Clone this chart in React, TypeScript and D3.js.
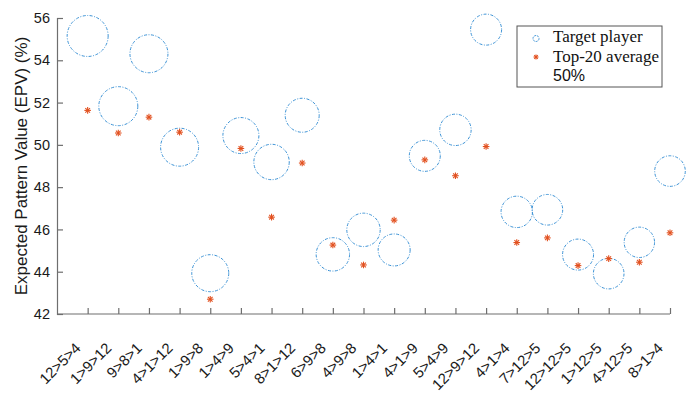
import { useEffect, useRef } from "react";
import * as d3 from "d3";

const PATTERNS = [
  "12>5>4", "1>9>12", "9>8>1", "4>1>12", "1>9>8", "1>4>9", "5>4>1", "8>1>12", "6>9>8", "4>9>8",
  "1>4>1", "4>1>9", "5>4>9", "12>9>12", "4>1>4", "7>12>5", "12>12>5", "1>12>5", "4>12>5", "8>1>4",
];
const TARGET = [
  55.15, 51.83, 54.31, 49.89, 43.93, 50.44, 49.19, 51.4, 44.82, 45.98,
  45.03, 49.48, 50.71, 55.45, 46.83, 46.93, 44.81, 43.91, 45.39, 48.76,
];
const TOP20 = [
  51.63, 50.56, 51.31, 50.6, 42.7, 49.83, 46.58, 49.14, 45.26, 44.32,
  46.44, 49.29, 48.54, 49.92, 45.38, 45.6, 44.29, 44.62, 44.45, 45.84,
];
// relative usage weight of each pattern (sets the circle size)
const USAGE = [
  20.5, 19.5, 19, 19, 18.5, 18, 17.7, 17, 16.7, 16.7,
  16, 15.5, 15.7, 15.5, 15.7, 15.3, 15.5, 15.3, 15.2, 15.3,
];
const Y_TICKS = [42, 44, 46, 48, 50, 52, 54, 56];
const LEGEND = ["Target player", "Top-20 average", "50%"];

const BLUE = "#3d93d6";
const RED = "#e2501f";
const AXIS = "#6e6e6e";
const SANS = "'Liberation Sans', Arial, sans-serif";
const SERIF = "'Liberation Serif', 'Times New Roman', serif";

function star(g: d3.Selection<SVGGElement, unknown, null, undefined>, x: number, y: number, s: number) {
  const angles = [0, 45, 90, 135];
  angles.forEach((a) => {
    const r = (a * Math.PI) / 180;
    g.append("line")
      .attr("x1", x - Math.cos(r) * s)
      .attr("y1", y - Math.sin(r) * s)
      .attr("x2", x + Math.cos(r) * s)
      .attr("y2", y + Math.sin(r) * s)
      .attr("stroke", RED)
      .attr("stroke-width", 1.1);
  });
}

export default function App() {
  const svgRef = useRef<SVGSVGElement>(null);

  useEffect(() => {
    document.body.style.margin = "0";
    const svg = svgRef.current;
    if (!svg) return;
    const W = 700;
    const H = 397;
    const m = { left: 57, right: 30, top: 18, bottom: 83 };

    const s = d3.select(svg);
    s.selectAll("*").remove();
    s.attr("width", W).attr("height", H);

    const x = d3.scaleLinear().domain([0, PATTERNS.length]).range([m.left, W - m.right]);
    const y = d3.scaleLinear().domain([42, 56]).range([H - m.bottom, m.top]);
    const rScale = d3.scaleLinear().domain([15, 20.5]).range([15, 20.5]);

    const g = s.append("g");

    // y label
    g.append("text")
      .attr("transform", `translate(27,${(y(42) + y(56)) / 2}) rotate(-90)`)
      .attr("text-anchor", "middle")
      .attr("font-family", SANS)
      .attr("font-size", 17)
      .attr("fill", "#1a1a1a")
      .text("Expected Pattern Value (EPV) (%)");

    // y axis
    const yAx = g.append("g")
      .attr("transform", `translate(${m.left},0)`)
      .call(d3.axisLeft(y).tickValues(Y_TICKS).tickSize(-6).tickPadding(7).tickFormat(d3.format("d")));
    yAx.select(".domain").attr("stroke", AXIS).attr("stroke-width", 1.2);
    yAx.selectAll(".tick line").attr("stroke", AXIS).attr("stroke-width", 1.2);
    yAx.selectAll("text").attr("font-family", SANS).attr("font-size", 14.5).attr("fill", "#1a1a1a");

    // x axis
    const xAx = g.append("g")
      .attr("transform", `translate(0,${y(42)})`)
      .call(
        d3.axisBottom(x)
          .tickValues(d3.range(1, PATTERNS.length + 1))
          .tickSize(-6)
          .tickFormat(() => ""),
      );
    xAx.select(".domain").attr("stroke", AXIS).attr("stroke-width", 1.2).attr("d", `M${m.left},0H${x(PATTERNS.length)}`);
    xAx.selectAll(".tick line").attr("stroke", AXIS).attr("stroke-width", 1.2);

    g.append("g")
      .selectAll("text")
      .data(PATTERNS)
      .join("text")
      .attr("transform", (_d, i) => `translate(${x(i + 1) - 6},${y(42) + 35}) rotate(-45)`)
      .attr("text-anchor", "end")
      .attr("font-family", SANS)
      .attr("font-size", 15)
      .attr("fill", "#1a1a1a")
      .text((d) => d);

    // circles
    g.append("g")
      .selectAll("circle")
      .data(TARGET)
      .join("circle")
      .attr("cx", (_d, i) => x(i + 1))
      .attr("cy", (d) => y(d))
      .attr("r", (_d, i) => rScale(USAGE[i]))
      .attr("fill", "none")
      .attr("stroke", BLUE)
      .attr("stroke-width", 1)
      .attr("stroke-dasharray", "3 1.5 1 1.5");

    // stars
    const sg = g.append("g");
    TOP20.forEach((v, i) => star(sg, x(i + 1), y(v), 3.3));

    // legend
    const lg = g.append("g").attr("transform", "translate(517,26)");
    lg.append("rect")
      .attr("width", 145)
      .attr("height", 61)
      .attr("fill", "white")
      .attr("stroke", "#555")
      .attr("stroke-width", 1);
    lg.append("circle")
      .attr("cx", 19)
      .attr("cy", 12.5)
      .attr("r", 3)
      .attr("fill", "none")
      .attr("stroke", BLUE)
      .attr("stroke-dasharray", "2 1");
    star(lg, 19, 31, 2.5);
    LEGEND.forEach((t, i) => {
      lg.append("text")
        .attr("x", 36)
        .attr("y", 16 + i * 19.5)
        .attr("font-family", i < 2 ? SERIF : SANS)
        .attr("font-size", i < 2 ? 17 : 16)
        .attr("fill", "#111")
        .text(t);
    });
  }, []);

  return <svg ref={svgRef} style={{ display: "block" }} />;
}
